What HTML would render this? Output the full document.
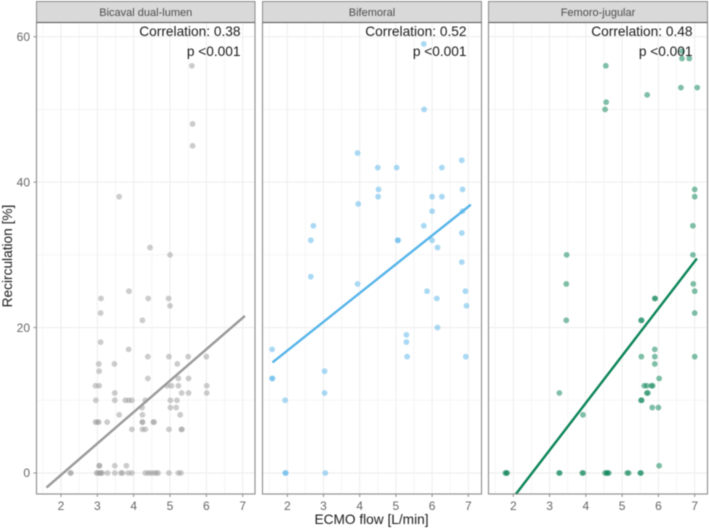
<!DOCTYPE html>
<html>
<head>
<meta charset="utf-8">
<title>Recirculation vs ECMO flow</title>
<style>
html,body{margin:0;padding:0;background:#fff;width:709px;height:529px;overflow:hidden}
svg{display:block;filter:blur(0.45px)}
text{font-family:"Liberation Sans",sans-serif}
</style>
</head>
<body>
<svg id="chart" width="709" height="529" viewBox="0 0 709 529" xmlns="http://www.w3.org/2000/svg"></svg>
<script>
const panelNames = ['Bicaval dual-lumen', 'Bifemoral', 'Femoro-jugular'];
const correlationLabels = ['Correlation: 0.38', 'Correlation: 0.52', 'Correlation: 0.48'];
const pValueLabel = 'p <0.001';
const xTicks = [2, 3, 4, 5, 6, 7];
const yTicks = [0, 20, 40, 60];
const xMinorTicks = [1.5, 2.5, 3.5, 4.5, 5.5, 6.5];
const yMinorTicks = [10, 30, 50];

const bicavalX = [5.6,5.62,5.62,3.6,4.45,5.0,3.87,3.1,4.4,4.96,5.0,3.09,4.24,3.09,3.86,4.39,4.97,5.5,6.0,3.04,3.47,5.2,3.05,4.39,5.23,5.51,2.95,3.05,4.92,5.04,5.23,6.01,3.48,5.32,5.51,6.01,2.96,3.48,3.77,3.86,3.95,4.32,5.01,5.19,4.23,5.01,5.17,3.6,4.24,5.28,2.95,3.0,3.04,3.27,4.24,4.24,4.54,4.56,3.95,4.24,4.32,4.97,5.31,5.33,3.05,3.06,3.48,3.8,2.26,2.27,2.98,3.02,3.07,3.1,3.13,3.28,3.48,3.65,3.69,3.85,3.95,4.32,4.4,4.47,4.55,4.62,4.67,4.97,5.23,5.3];
const bicavalY = [56,48,45,38,31,30,25,24,24,24,23,22,21,18,17,16,16,16,16,15,15,15,14,13,13,13,12,12,12,12,12,12,11,11,11,11,10,10,10,10,10,10,10,10,9,9,9,8,8,8,7,7,7,7,7,7,7,7,6,6,6,6,6,6,1,1,1,1,0,0,0,0,0,0,0,0,0,0,0,0,0,0,0,0,0,0,0,0,0,0];
const bifemoralX = [5.77,5.78,3.94,6.82,4.5,5.02,6.27,4.52,6.84,4.51,6.0,6.27,3.96,6.0,6.84,2.72,5.77,2.65,5.05,5.06,6.0,6.82,6.15,6.82,2.65,3.94,5.86,6.92,6.13,6.95,6.15,5.29,5.29,5.31,6.93,1.58,1.58,1.59,3.03,3.03,1.94,1.94,1.96,3.05];
const bifemoralY = [59,50,44,43,42,42,42,39,39,38,38,38,37,36,36,34,34,32,32,32,32,33,31,29,27,26,25,25,24,23,20,19,18,16,16,17,13,13,14,11,10,0,0,0];
const femoroX = [4.55,6.65,6.85,6.65,6.62,7.07,5.69,4.56,4.53,7.0,7.0,6.95,3.47,6.95,3.46,6.96,7.0,5.9,5.91,7.0,3.46,5.52,5.54,5.9,5.53,5.9,7.0,5.9,6.02,5.61,5.68,5.81,5.84,3.27,5.68,5.71,5.52,5.54,5.83,6.0,3.92,6.02,1.78,1.81,1.83,3.26,3.28,3.9,3.93,4.53,4.57,4.6,4.63,5.14,5.18,5.5,5.52];
const femoroY = [56,57,57,58,53,53,52,51,50,39,38,34,30,30,26,26,25,24,24,22,21,21,21,17,16,16,16,15,13,12,12,12,12,11,11,11,10,10,9,9,8,1,0,0,0,0,0,0,0,0,0,0,0,0,0,0,0];

const bicavalLineX = [1.6, 7.06];
const bicavalLineY = [-2, 21.6];
const bifemoralLineX = [1.59, 7.07];
const bifemoralLineY = [15.2, 36.9];
const femoroLineX = [2.07, 7.06];
const femoroLineY = [-2.9, 29.5];

const seriesX = [bicavalX, bifemoralX, femoroX];
const seriesY = [bicavalY, bifemoralY, femoroY];
const linesX = [bicavalLineX, bifemoralLineX, femoroLineX];
const linesY = [bicavalLineY, bifemoralLineY, femoroLineY];

const colors = ['#999999', '#56B4E9', '#0B8457'];
const panelLeft = [36.5, 262.5, 488.5];
const panelRight = [255, 481.5, 707.5];
const x2Pos = [61, 287.3, 513.3];
const x7Pos = [242.7, 468.3, 694.7];
const labelRight = [240.5, 466.5, 692.5];
const panelTop = 22.5, panelBottom = 494, y0Pos = 473, y60Pos = 36.7;

const svg = document.getElementById('chart');
const NS = 'http://www.w3.org/2000/svg';
function make(tag, attrs, text) {
  const el = document.createElementNS(NS, tag);
  for (const k in attrs) el.setAttribute(k, attrs[k]);
  if (text !== undefined) el.textContent = text;
  svg.appendChild(el);
  return el;
}
function yScale(v) { return y0Pos + (v / 60) * (y60Pos - y0Pos); }
function xScale(p, v) { return x2Pos[p] + (v - 2) / 5 * (x7Pos[p] - x2Pos[p]); }

panelNames.forEach(function (name, p) {
  const left = panelLeft[p], right = panelRight[p], w = right - left;
  const slug = name.toLowerCase().replace(/[^a-z]+/g, '-');

  const bg = make('rect', {x: left, y: panelTop, width: w, height: panelBottom - panelTop, fill: '#fff'});
  
  

  xMinorTicks.forEach(function (t) {
    const l = make('line', {x1: xScale(p, t), x2: xScale(p, t), y1: panelTop, y2: panelBottom, stroke: '#f3f3f3', 'stroke-width': 0.8});
    
    
  });
  yMinorTicks.forEach(function (t) {
    const l = make('line', {x1: left, x2: right, y1: yScale(t), y2: yScale(t), stroke: '#f3f3f3', 'stroke-width': 0.8});
    
    
  });
  xTicks.forEach(function (t) {
    const l = make('line', {x1: xScale(p, t), x2: xScale(p, t), y1: panelTop, y2: panelBottom, stroke: '#ededed', 'stroke-width': 1});
    
    
  });
  yTicks.forEach(function (t) {
    const l = make('line', {x1: left, x2: right, y1: yScale(t), y2: yScale(t), stroke: '#ededed', 'stroke-width': 1});
    
    
  });

  seriesX[p].forEach(function (xv, i) {
    const c = make('circle', {cx: xScale(p, xv), cy: yScale(seriesY[p][i]), r: 2.9, fill: colors[p], 'fill-opacity': p === 2 ? 0.52 : 0.5});
    
    
  });

  const fit = make('line', {
    x1: xScale(p, linesX[p][0]), y1: yScale(linesY[p][0]),
    x2: xScale(p, linesX[p][1]), y2: yScale(linesY[p][1]),
    stroke: colors[p], 'stroke-width': 2.4
  });
  
  

  const border = make('rect', {x: left, y: panelTop, width: w, height: panelBottom - panelTop, fill: 'none', stroke: '#8c8c8c', 'stroke-width': 1.1});
  
  

  const strip = make('rect', {x: left, y: 1.5, width: w, height: 21, fill: '#d9d9d9', stroke: '#8c8c8c', 'stroke-width': 1});
  
  

  const stripLine = make('line', {x1: left, x2: right, y1: 22.5, y2: 22.5, stroke: '#555', 'stroke-width': 1});
  
  

  const stripText = make('text', {x: (left + right) / 2, y: 16, 'text-anchor': 'middle', 'font-size': 11, fill: '#4d4d4d'}, name);
  
  

  const corr = make('text', {x: labelRight[p], y: 36, 'text-anchor': 'end', 'font-size': 13.7, fill: '#1a1a1a'}, correlationLabels[p]);
  
  

  const pv = make('text', {x: labelRight[p], y: 56, 'text-anchor': 'end', 'font-size': 13.7, fill: '#1a1a1a'}, pValueLabel);
  
  

  xTicks.forEach(function (t) {
    const tm = make('line', {x1: xScale(p, t), x2: xScale(p, t), y1: panelBottom, y2: panelBottom + 3, stroke: '#8c8c8c', 'stroke-width': 1});
    
    
    const tl = make('text', {x: xScale(p, t), y: 510, 'text-anchor': 'middle', 'font-size': 12, fill: '#666'}, String(t));
    
    
  });
});

yTicks.forEach(function (t) {
  const tm = make('line', {x1: 33.5, x2: 36.5, y1: yScale(t), y2: yScale(t), stroke: '#8c8c8c', 'stroke-width': 1});
  
  
  const tl = make('text', {x: 30, y: yScale(t) + 4.2, 'text-anchor': 'end', 'font-size': 12, fill: '#666'}, String(t));
  
  
});

const xTitle = make('text', {x: 371.5, y: 524, 'text-anchor': 'middle', 'font-size': 13.7, fill: '#1a1a1a'}, 'ECMO flow [L/min]');



const yTitle = make('text', {x: 0, y: 0, transform: 'translate(12 256) rotate(-90)', 'text-anchor': 'middle', 'font-size': 13.7, fill: '#1a1a1a'}, 'Recirculation [%]');


</script>
</body>
</html>
